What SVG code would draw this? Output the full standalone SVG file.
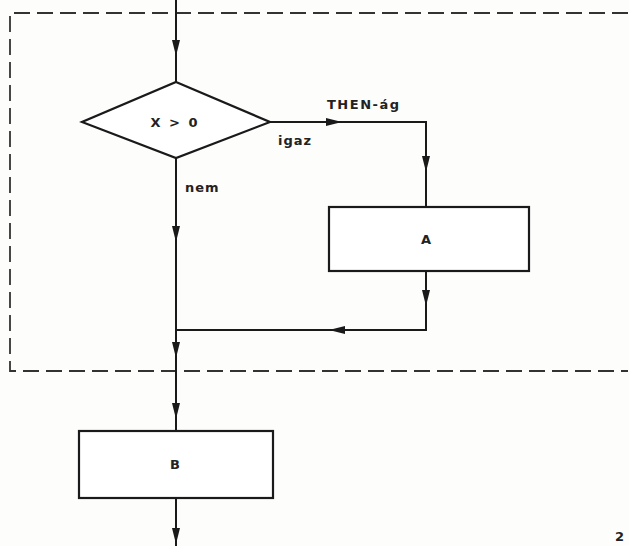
<svg xmlns="http://www.w3.org/2000/svg" width="629" height="546" viewBox="0 0 629 546">
<style>
.ln{stroke:#1a1a1a;stroke-width:2;fill:none}
.sh{stroke:#1a1a1a;stroke-width:2.2;fill:#fff}
.ah{fill:#1a1a1a}
.t{font-family:"DejaVu Sans",sans-serif;font-weight:bold;fill:#222;font-size:13px}
.dash{stroke:#333;stroke-width:1.8;fill:none;stroke-dasharray:16,7}
</style>
<rect width="629" height="546" fill="#fdfdfb"/>
<g id="frame"><path class="dash" d="M628,13 H10 V371 H628"/></g>
<g id="connectors">
<path class="ln" d="M176,0 V82"/>
<path class="ah" d="M172,40 L180,40 L176,56 Z"/>
<path class="ln" d="M270,122 H426 V207"/>
<path class="ah" d="M326,118 L326,126 L342,122 Z"/>
<path class="ah" d="M422,156 L430,156 L426,172 Z"/>
<path class="ln" d="M176,158 V431"/>
<path class="ah" d="M172,226 L180,226 L176,242 Z"/>
<path class="ln" d="M426,271 V330 H176"/>
<path class="ah" d="M422,290 L430,290 L426,306 Z"/>
<path class="ah" d="M345,326 L345,334 L329,330 Z"/>
<path class="ah" d="M172,342 L180,342 L176,358 Z"/>
<path class="ah" d="M172,403 L180,403 L176,419 Z"/>
<path class="ln" d="M176,498 V546"/>
<path class="ah" d="M172,528 L180,528 L176,544 Z"/>
</g>
<g id="cond">
<path class="sh" d="M176,82 L270,122 L176,158 L82,122 Z"/>
<text class="t" x="175" y="127" text-anchor="middle" letter-spacing="2">X &gt; 0</text>
</g>
<g id="labels">
<text class="t" x="327" y="109" letter-spacing="1.5">THEN-ág</text>
<text class="t" x="278" y="145" letter-spacing="1">igaz</text>
<text class="t" x="185" y="192" letter-spacing="1">nem</text>
<text class="t" x="615" y="541" font-size="15">2</text>
</g>
<g id="A">
<rect class="sh" x="329" y="207" width="200" height="64"/>
<text class="t" x="426" y="244" text-anchor="middle">A</text>
</g>
<g id="B">
<rect class="sh" x="79" y="431" width="194" height="67"/>
<text class="t" x="175" y="469" text-anchor="middle" font-size="12">B</text>
</g>
</svg>
